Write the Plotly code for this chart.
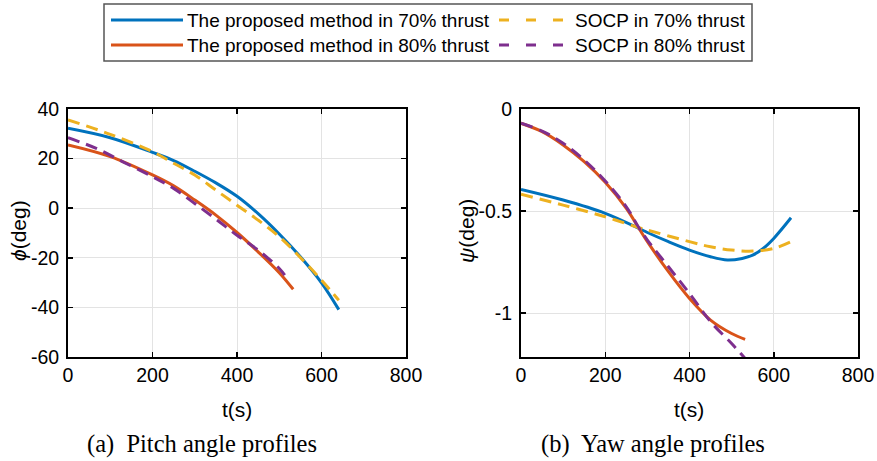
import plotly.graph_objects as go

W, H = 877, 461

# ---------------- data ----------------
# Pitch angle (left panel)
t_pitch_prop70 = [0, 100, 200, 250, 300, 350, 400, 450, 500, 550, 600, 641]
phi_prop70 = [32.2, 28.4, 22.5, 19.2, 14.9, 10.2, 4.8, -2.2, -10.4, -19.6, -30.1, -40.9]

t_pitch_socp70 = [0, 100, 200, 250, 300, 350, 400, 450, 500, 550, 600, 641]
phi_socp70 = [35.6, 29.8, 22.8, 18.1, 13.4, 7.3, 1.2, -4.8, -11.5, -19.9, -29.0, -37.1]

t_pitch_prop80 = [0, 100, 200, 250, 300, 350, 400, 450, 500, 533]
phi_prop80 = [25.5, 20.8, 13.4, 9.0, 3.3, -2.8, -9.8, -17.6, -26.0, -32.7]

t_pitch_socp80 = [0, 67, 130, 200, 250, 300, 350, 400, 450, 500, 513]
phi_socp80 = [28.4, 24.1, 18.7, 12.7, 8.0, 1.9, -4.4, -10.9, -16.9, -24.3, -27.0]

# Yaw angle (right panel)
t_yaw_prop70 = [0, 100, 200, 280, 300, 350, 400, 450, 490, 525, 550, 575, 600, 641]
psi_prop70 = [-0.394, -0.446, -0.511, -0.585, -0.605, -0.650, -0.691, -0.724, -0.740, -0.732, -0.716, -0.683, -0.634, -0.533]

t_yaw_socp70 = [0, 100, 200, 280, 300, 400, 450, 500, 550, 600, 641]
psi_socp70 = [-0.418, -0.471, -0.528, -0.582, -0.593, -0.650, -0.675, -0.691, -0.696, -0.683, -0.650]

t_yaw_prop80 = [0, 50, 100, 150, 200, 250, 280, 300, 350, 400, 450, 500, 532]
psi_prop80 = [-0.070, -0.111, -0.176, -0.258, -0.359, -0.487, -0.585, -0.650, -0.797, -0.928, -1.034, -1.100, -1.129]

t_yaw_socp80 = [0, 50, 100, 150, 200, 250, 280, 300, 350, 400, 450, 500, 532]
psi_socp80 = [-0.070, -0.108, -0.168, -0.250, -0.353, -0.479, -0.582, -0.642, -0.773, -0.904, -1.042, -1.149, -1.222]

series_names = [
    "The proposed method in 70% thrust",
    "SOCP in 70% thrust",
    "The proposed method in 80% thrust",
    "SOCP in 80% thrust",
]

x_tickvals = [0, 200, 400, 600, 800]
x_ticktext = ["0", "200", "400", "600", "800"]
y1_tickvals = [-60, -40, -20, 0, 20, 40]
y1_ticktext = ["-60", "-40", "-20", "0", "20", "40"]
y2_tickvals = [-1, -0.5, 0]
y2_ticktext = ["-1", "-0.5", "0"]

captions = ["(a)\u00a0 Pitch angle profiles", "(b)\u00a0 Yaw angle profiles"]

# ---------------- styles ----------------
BLUE = "#0072BD"
ORANGE = "#D95319"
YELLOW = "#EDB120"
PURPLE = "#7E2F8E"
colors = [BLUE, YELLOW, ORANGE, PURPLE]
dashes = ["solid", "12px,7px", "solid", "12px,7px"]
LW = 3

fig = go.Figure()

left = [(t_pitch_prop70, phi_prop70), (t_pitch_socp70, phi_socp70),
        (t_pitch_prop80, phi_prop80), (t_pitch_socp80, phi_socp80)]
right = [(t_yaw_prop70, psi_prop70), (t_yaw_socp70, psi_socp70),
         (t_yaw_prop80, psi_prop80), (t_yaw_socp80, psi_socp80)]

order = [0, 2, 1, 3]
for i in order:
    x, y = left[i]
    fig.add_trace(go.Scatter(x=x, y=y, mode="lines", name=series_names[i],
                             line=dict(color=colors[i], width=LW, dash=dashes[i], shape="spline", smoothing=1.0),
                             xaxis="x", yaxis="y", showlegend=False))
for i in order:
    x, y = right[i]
    fig.add_trace(go.Scatter(x=x, y=y, mode="lines", name=series_names[i],
                             line=dict(color=colors[i], width=LW, dash=dashes[i], shape="spline", smoothing=1.0),
                             xaxis="x2", yaxis="y2", showlegend=False))

def px_x(p):
    return p / W

def px_y(p):
    return 1 - p / H

tick_font = dict(family="Liberation Sans, Arial, sans-serif", size=19.5, color="#000")
common_axis = dict(showline=True, linecolor="#000", linewidth=2, mirror="ticks",
                   ticks="inside", ticklen=5, tickwidth=1.5, tickcolor="#000",
                   showgrid=True, gridcolor="#e3e3e3", gridwidth=1, zeroline=False,
                   tickfont=tick_font, automargin=False)

ydom = [px_y(357), px_y(109)]
fig.update_layout(
    width=W, height=H,
    margin=dict(l=0, r=0, t=0, b=0, autoexpand=False),
    paper_bgcolor="white", plot_bgcolor="white",
    xaxis=dict(domain=[px_x(68), px_x(406)], range=[0, 800], anchor="y",
               tickvals=x_tickvals, ticktext=x_ticktext, **common_axis),
    yaxis=dict(domain=ydom, range=[-60, 40], anchor="x",
               tickvals=y1_tickvals, ticktext=y1_ticktext, ticklabelstandoff=3, **common_axis),
    xaxis2=dict(domain=[px_x(521), px_x(858)], range=[0, 800], anchor="y2",
                tickvals=x_tickvals, ticktext=x_ticktext, **common_axis),
    yaxis2=dict(domain=ydom, range=[-1.215, 0], anchor="x2",
                tickvals=y2_tickvals, ticktext=y2_ticktext, ticklabelstandoff=3, **common_axis),
    showlegend=False,
)

title_font = dict(family="Liberation Sans, Arial, sans-serif", size=21, color="#000")
ann = []
for cx in [237, 689]:
    ann.append(dict(text="t(s)", x=px_x(cx), y=px_y(409), xref="paper", yref="paper",
                    xanchor="center", yanchor="middle", showarrow=False, font=title_font))
ann.append(dict(text="<i>ϕ</i>(deg)", x=px_x(18), y=px_y(231), xref="paper", yref="paper",
                xanchor="center", yanchor="middle", showarrow=False, textangle=-90, font=title_font))
ann.append(dict(text="<i>ψ</i>(deg)", x=px_x(466), y=px_y(231), xref="paper", yref="paper",
                xanchor="center", yanchor="middle", showarrow=False, textangle=-90, font=title_font))
cap_font = dict(family="Liberation Serif, Times New Roman, serif", size=24.5, color="#000")
for cx, txt in zip([201.5, 653], captions):
    ann.append(dict(text=txt, x=px_x(cx), y=px_y(444), xref="paper", yref="paper",
                    xanchor="center", yanchor="middle", showarrow=False, font=cap_font))

# legend (manual, two columns)
leg_font = dict(family="Liberation Sans, Arial, sans-serif", size=19, color="#000")
shapes = [dict(type="rect", xref="paper", yref="paper",
               x0=px_x(104), x1=px_x(752), y0=px_y(61), y1=px_y(4),
               line=dict(color="#555555", width=1.5), fillcolor="white", layer="above")]
leg_items = [
    (0, 111, 183, 185, 20),
    (1, 499, 569, 573, 20),
    (2, 111, 183, 185, 45),
    (3, 499, 569, 573, 45),
]
for i, xs0, xs1, xt, yy in leg_items:
    shapes.append(dict(type="line", xref="paper", yref="paper",
                       x0=px_x(xs0), x1=px_x(xs1), y0=px_y(yy), y1=px_y(yy),
                       line=dict(color=colors[i], width=LW,
                                 dash="solid" if dashes[i] == "solid" else "10px,17px"),
                       layer="above"))
    ann.append(dict(text=series_names[i], x=px_x(xt), y=px_y(yy), xref="paper", yref="paper",
                    xanchor="left", yanchor="middle", showarrow=False, font=leg_font))

fig.update_layout(annotations=ann, shapes=shapes)

fig.write_html("out.html",
               config={"displayModeBar": False, "staticPlot": True},
               post_script="document.body.style.margin='0';document.body.style.overflow='hidden';")
